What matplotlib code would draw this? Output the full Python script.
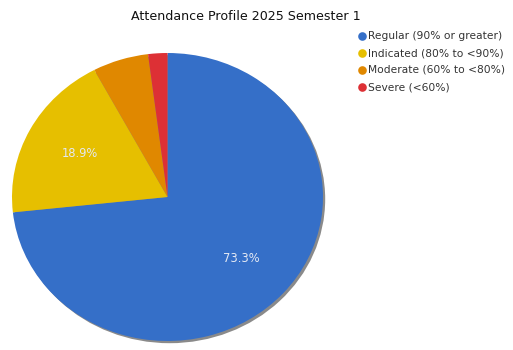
import matplotlib
matplotlib.use("Agg")
import matplotlib.pyplot as plt
from matplotlib.patches import Ellipse
from matplotlib.lines import Line2D

categories = ["Regular (90% or greater)", "Indicated (80% to <90%)",
              "Moderate (60% to <80%)", "Severe (<60%)"]
values = [73.3, 18.9, 5.8, 2.0]
colors = ["#356FC8", "#E6BF00", "#E08800", "#DD3035"]
title = "Attendance Profile 2025 Semester 1"

W, H = 513, 350
fig = plt.figure(figsize=(W / 100, H / 100), dpi=100)
plt.rcParams['font.family'] = ['DejaVu Sans']

# pie axes (slightly elliptical like the reference)
left, right, top, bottom = 12, 323, 53, 341
ax = fig.add_axes([left / W, 1 - bottom / H, (right - left) / W, (bottom - top) / H])

def fmt(p):
    return f"{p:.1f}%" if p >= 10 else ""

wedges, texts, autotexts = ax.pie(values, colors=colors, startangle=90, counterclock=False,
                                  autopct=fmt, pctdistance=0.64,
                                  wedgeprops=dict(linewidth=0, zorder=1),
                                  textprops=dict(color="#E4E9F4", fontsize=8.3),
                                  frame=True)
ax.set_aspect('auto')
ax.set_xlim(-1.0, 1.0)
ax.set_ylim(-1.0, 1.0)
ax.axis('off')

# shadow
sx = 2.2 / ((right - left) / 2)
sy = 2.2 / ((bottom - top) / 2)
sh = Ellipse((sx, -sy), 2, 2, facecolor="#8a8a8a", edgecolor="none", zorder=0)
sh.set_clip_on(False)
ax.add_patch(sh)

fig.text(246 / W, 1 - 17 / H, title, ha='center', va='center', fontsize=9.1, color="#111111")

# legend
y0, dy = 36, 17
for i, (lab, c) in enumerate(zip(categories, colors)):
    y = 1 - (y0 + i * dy) / H
    fig.add_artist(Line2D([361.5 / W], [y], marker='o', markersize=6.2, color=c,
                          markeredgewidth=0, transform=fig.transFigure))
    fig.text(368 / W, y, lab, ha='left', va='center', fontsize=7.7, color="#333333")

fig.savefig("out.png", dpi=100)
